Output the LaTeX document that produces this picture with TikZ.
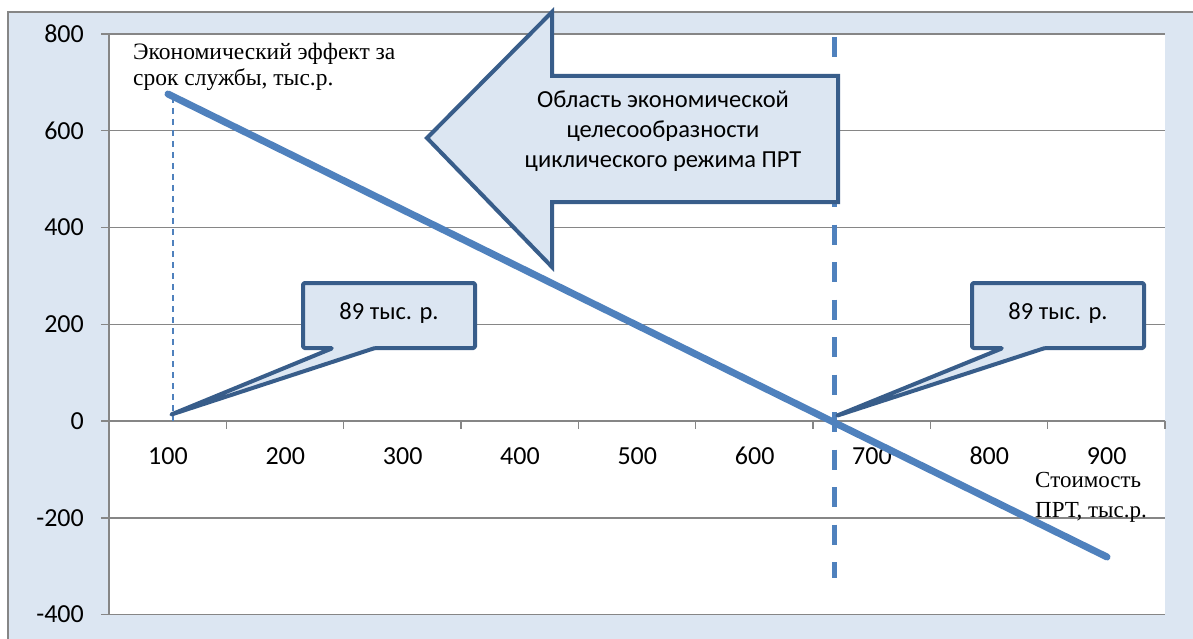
\documentclass[tikz,border=0pt]{standalone}
\usepackage{fontspec}
\setmainfont{Liberation Serif}
\newfontfamily\calibri{Carlito}
\definecolor{chartbg}{HTML}{DCE6F2}
\definecolor{gridgray}{HTML}{868686}
\definecolor{seriesblue}{HTML}{4F81BD}
\definecolor{calloutedge}{HTML}{385D8A}
\tikzset{
  gridline/.style={gridgray, line width=1.5pt},
  axislabel/.style={font=\calibri\fontsize{26}{30}\selectfont, inner sep=0pt},
  callout/.style={draw=calloutedge, fill=chartbg, line width=4pt, line join=round, rounded corners=1.5pt},
  callouttext/.style={font=\calibri\fontsize{24.5}{30}\selectfont, align=center, inner sep=0pt},
  serifnote/.style={font=\fontsize{23.5}{26}\selectfont, align=left, inner sep=0pt, anchor=north west}
}
\begin{document}
\begin{tikzpicture}[x=1pt, y=-1pt]
  \useasboundingbox (0,0) rectangle (1193,639);
  \begin{scope}
    \clip (0,0) rectangle (1193,639);
    \draw[gridline, fill=chartbg] (8,12) rectangle (1210,660);
  \end{scope}
  \fill[white] (109,34) rectangle (1165,614);
  % horizontal grid and y labels
  \foreach \yy/\val in {34/800, 130.75/600, 227.5/400, 324.25/200, 517.75/-200, 614.5/-400} {
    \draw[gridline] (101,\yy) -- (1165,\yy);
    \node[axislabel, anchor=base east] at (84,\yy+8.3) {\val};
  }
  \node[axislabel, anchor=base east] at (84,429.3) {0};
  % axes
  \draw[gridline] (109,34) -- (109,614.5);
  \draw[gridline] (101,421) -- (1165,421);
  \foreach \k in {1,...,9}
    \draw[gridline] (109+117.33*\k,421) -- (109+117.33*\k,429);
  \foreach \k/\val in {0/100, 1/200, 2/300, 3/400, 4/500, 5/600, 6/700, 7/800, 8/900}
    \node[axislabel, anchor=base] at (168+117.33*\k,464) {\val};
  % dashed markers
  \draw[seriesblue, line width=1.5pt, dash pattern=on 6pt off 5pt] (173,97) -- (173,421);
  \draw[seriesblue, line width=5pt, dash pattern=on 20pt off 17.5pt] (834,37) -- (834,578);
  % series
  \draw[seriesblue, line width=7pt, line cap=round] (168,94) -- (1107,557);
  % big arrow
  \draw[callout, rounded corners=0pt, line join=miter] (427,138) -- (552,12) -- (552,76) -- (838,76)
    -- (838,202) -- (552,202) -- (552,267) -- cycle;
  \node[callouttext] (area) at (663,131) {Область экономической\\целесообразности\\циклического режима ПРТ};
  % callouts
  \draw[callout] (303,283) -- (475,283) -- (475,348) -- (375,348) -- (170,415) -- (333,348) -- (303,348) -- cycle;
  \node[callouttext] (left) at (389,313) {89 тыс. р.};
  \draw[callout] (972,283) -- (1144,283) -- (1144,348) -- (1045,348) -- (836,416) -- (1003,348) -- (972,348) -- cycle;
  \node[callouttext] (right) at (1058,313) {89 тыс. р.};
  % axis titles
  \node[serifnote] (ytitle) at (133,43) {Экономический эффект за\\срок службы, тыс.р.};
  \node[serifnote, font=\fontsize{23}{30}\selectfont] (xtitle) at (1035,472) {Стоимость\\ПРТ, тыс.р.};
\end{tikzpicture}
\end{document}
